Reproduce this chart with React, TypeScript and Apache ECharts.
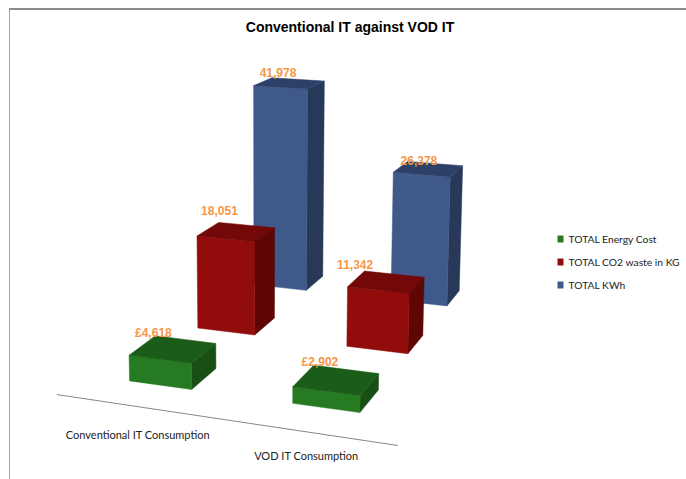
import React, { useEffect, useRef } from "react";
import * as echarts from "echarts";

const categories = ["Conventional IT Consumption", "VOD IT Consumption"];
const energyCost = [4618, 2902];
const co2Waste = [18051, 11342];
const totalKwh = [41978, 26378];
const seriesNames = ["TOTAL Energy Cost", "TOTAL CO2 waste in KG", "TOTAL KWh"];

// Camera: projective map from (category, series depth, axis height) to the page.
const M = [152.0321, 89.78122, -0.02093472, 129.5656, 7.103627, -17.24618, -0.5837098, 380.895, -0.03798202, 0.1086994, -0.00007921205];
const project = (u: number, v: number, h: number) => {
  const w = M[8] * u + M[9] * v + M[10] * h + 1;
  return [(M[0] * u + M[1] * v + M[2] * h + M[3]) / w, (M[4] * u + M[5] * v + M[6] * h + M[7]) / w];
};

const BW = 0.39, BD = 0.36;
const colors = [
  { front: "#267A22", top: "#1B5C18", side: "#174F14" },
  { front: "#930C0C", top: "#720808", side: "#5E0604" },
  { front: "#3F5A8A", top: "#2C4068", side: "#273858" },
];
const labelNudge = [[[-32, 3], [-26, 3]], [[-27, -4], [-39, 1]], [[-20, 4], [-16, 7]]];
const catLabelU = [0.38, 1.3], catLabelV = [-0.69, -0.64];

function barSeries(name: string, values: number[], s: number, prefix: string) {
  const c = colors[s];
  return {
    type: "custom", name, z: 10 - s,
    itemStyle: { color: c.front },
    data: values.map((v, i) => [i, v]),
    encode: { x: 0, y: 1 },
    renderItem: (params: any, api: any) => {
      const base = api.coord([api.value(0), 0]);
      const top = api.coord([api.value(0), api.value(1)]);
      const u = base[0] / 100, h = base[1] - top[1], v = s;
      const P = (a: number, b: number, z: number) => project(u + a, v + b, z);
      const poly = (pts: number[][], fill: string) => ({ type: "polygon", shape: { points: pts }, style: { fill, stroke: fill, lineWidth: 0.5 } });
      const lab = P(BW / 2, BD, h);
      const nd = labelNudge[s][params.dataIndex];
      return {
        type: "group",
        children: [
          poly([P(BW, 0, h), P(BW, BD, h), P(BW, BD, 0), P(BW, 0, 0)], c.side),
          poly([P(0, 0, 0), P(BW, 0, 0), P(BW, 0, h), P(0, 0, h)], c.front),
          poly([P(0, 0, h), P(BW, 0, h), P(BW, BD, h), P(0, BD, h)], c.top),
          { type: "text", x: lab[0] + nd[0], y: lab[1] - 10 + nd[1], z2: 5, style: { text: prefix + api.value(1).toLocaleString("en-GB"), fill: "#F79646", font: "bold 12px 'Liberation Sans'", align: "center", verticalAlign: "middle" } },
        ],
      };
    },
  };
}

const floorSeries = {
  type: "custom", name: "floor", z: 1,
  data: categories.map((c, i) => [i, 0]),
  encode: { x: 0, y: 1 },
  renderItem: (params: any) => {
    const i = params.dataIndex;
    const t = project(catLabelU[i], catLabelV[i], 0);
    const kids: any[] = [{ type: "text", x: t[0], y: t[1], style: { text: categories[i], fill: "#222", font: "11px Lato", align: "center", verticalAlign: "middle" } }];
    if (i === 0) {
      const a = project(-0.29, -0.334, 0), b = project(1.705, -0.36, 0);
      kids.push({ type: "line", shape: { x1: a[0], y1: a[1], x2: b[0], y2: b[1] }, style: { stroke: "#868686", lineWidth: 1 } });
    }
    return { type: "group", children: kids };
  },
};

export default function App() {
  const ref = useRef<HTMLDivElement>(null);
  useEffect(() => {
    const chart = echarts.init(ref.current!, undefined, { renderer: "svg" });
    chart.setOption({
      animation: false,
      backgroundColor: "#fff",
      title: { text: "Conventional IT against VOD IT", left: 345, top: 15, textAlign: "center", textStyle: { fontFamily: "Liberation Sans", fontWeight: "bold", fontSize: 14, color: "#000" } },
      legend: { orient: "vertical", left: 552.5, top: 229, itemWidth: 6, itemHeight: 7, itemGap: 13, icon: "rect", data: seriesNames, textStyle: { fontFamily: "Lato", fontSize: 10.3, color: "#222" }, selectedMode: false },
      grid: { left: 0, top: 0, width: 100, height: 450 },
      xAxis: { type: "category", show: false, boundaryGap: false, data: categories },
      yAxis: { type: "value", show: false, min: 0, max: 45000 },
      series: [barSeries(seriesNames[0], energyCost, 0, "£"), barSeries(seriesNames[1], co2Waste, 1, ""), barSeries(seriesNames[2], totalKwh, 2, ""), floorSeries],
      graphic: [
        { type: "line", shape: { x1: 9, y1: 9, x2: 686, y2: 9 }, style: { stroke: "#8C8C8C", lineWidth: 2 } },
        { type: "line", shape: { x1: 9.5, y1: 9, x2: 9.5, y2: 479 }, style: { stroke: "#A6A6A6", lineWidth: 1 } },
      ],
    });
    return () => chart.dispose();
  }, []);
  return <div ref={ref} style={{ position: "absolute", left: 0, top: 0, width: 686, height: 479 }} />;
}
